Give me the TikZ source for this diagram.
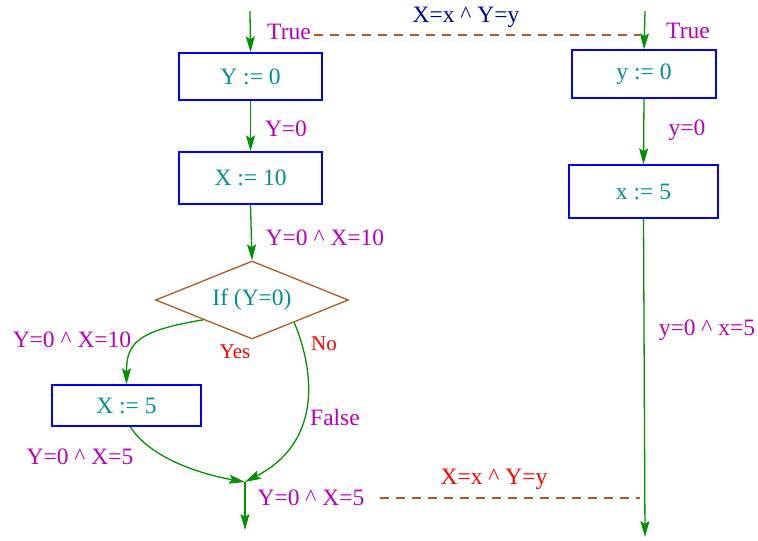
\documentclass[tikz,border=0pt]{standalone}
\usepackage{fontspec}
\setmainfont{Liberation Serif}
\usetikzlibrary{arrows.meta, shapes.geometric}
\definecolor{cfgBlue}{HTML}{0000FF}
\definecolor{cfgTeal}{HTML}{009090}
\definecolor{cfgMagenta}{HTML}{B800B8}
\definecolor{cfgGreen}{HTML}{009000}
\definecolor{cfgBrown}{HTML}{A85A2A}
\definecolor{cfgNavy}{HTML}{000090}
\definecolor{cfgRed}{HTML}{FF0000}

\begin{document}
\begin{tikzpicture}[
    x=1pt, y=-1pt,
    every node/.style={font=\fontsize{23.5}{27}\selectfont},
    assign/.style={rectangle, draw=cfgBlue, line width=1.3pt, text=cfgTeal, inner sep=0pt},
    test/.style={diamond, draw=cfgBrown, line width=1.3pt, text=cfgTeal, inner sep=0pt, aspect=2.47},
    flow/.style={draw=cfgGreen, line width=1.3pt, -{Stealth[length=16pt, width=9pt, inset=3pt]}},
    fact/.style={text=cfgMagenta},
    branch/.style={text=cfgRed, font=\fontsize{21}{25}\selectfont},
    relate/.style={draw=cfgBrown, line width=1.3pt, dash pattern=on 9pt off 7pt}
]
\useasboundingbox (0,0) rectangle (758,541);

% ============================
% Left: program with X, Y
% ============================
\coordinate (inL) at (250,11);
\node[assign, minimum width=143pt, minimum height=47pt] (assY) at (250.5,76.5) {Y := 0};
\node[assign, minimum width=143pt, minimum height=52pt] (assX10) at (250.5,178) {X := 10};
\node[test, minimum width=193pt, minimum height=78pt] (cond) at (252,300) {If (Y=0)};
\node[assign, minimum width=149pt, minimum height=41pt] (assX5) at (126.5,405.5) {X := 5};
\coordinate (join) at (245,482);
\coordinate (outL) at (245,530);

\draw[flow] (inL) -- (assY.north);
\draw[flow] (assY.south) -- (assX10.north);
\draw[flow] (assX10.south) -- (cond.north);
\draw[flow] (cond.south west) .. controls +(-68,11) and +(0,-40) .. (assX5.north);
\draw[flow] (cond.-28) .. controls (312,365) and (326,440) .. (join);
\draw[flow] (assX5.-80) .. controls (150,458) and (200,474) .. (join);
\draw[flow] (join) -- (outL);

% facts on the left
\node[fact] (trueL) at (289,32) {True};
\node[fact] (factY0) at (286,129) {Y=0};
\node[fact] (factX10) at (325,238) {Y=0 \textasciicircum\ X=10};
\node[fact] (factYes) at (72,340) {Y=0 \textasciicircum\ X=10};
\node[branch] (yes) at (235,352) {Yes};
\node[branch] (no) at (324,344) {No};
\node[fact] (false) at (335,417) {False};
\node[fact] (factX5) at (80,457) {Y=0 \textasciicircum\ X=5};
\node[fact] (factJoin) at (311,498) {Y=0 \textasciicircum\ X=5};

% ============================
% Right: program with x, y
% ============================
\coordinate (inR) at (645,11);
\node[assign, minimum width=144pt, minimum height=48pt] (assy) at (644,74) {y := 0};
\node[assign, minimum width=149pt, minimum height=53pt] (assx5) at (643.5,191.5) {x := 5};
\coordinate (outR) at (645,537);

\draw[flow] (inR) -- (assy.north);
\draw[flow] (assy.south) -- (assx5.north);
\draw[flow] (assx5.south) -- (outR);

% facts on the right
\node[fact] (trueR) at (688,31) {True};
\node[fact] (facty0) at (687,130) {y=0};
\node[fact] (factx5) at (707,330) {y=0 \textasciicircum\ x=5};

% ============================
% Relations between the two
% ============================
\coordinate (relTop) at (640,35);
\coordinate (relBot) at (640,498);
\draw[relate] (trueL.east |- relTop) -- (relTop);
\draw[relate] ([xshift=12pt]factJoin.east |- relBot) -- (relBot);
\node[text=cfgNavy] (relIn) at (466,17) {X=x \textasciicircum\ Y=y};
\node[text=cfgRed] (relOut) at (494,479) {X=x \textasciicircum\ Y=y};

\end{tikzpicture}
\end{document}
